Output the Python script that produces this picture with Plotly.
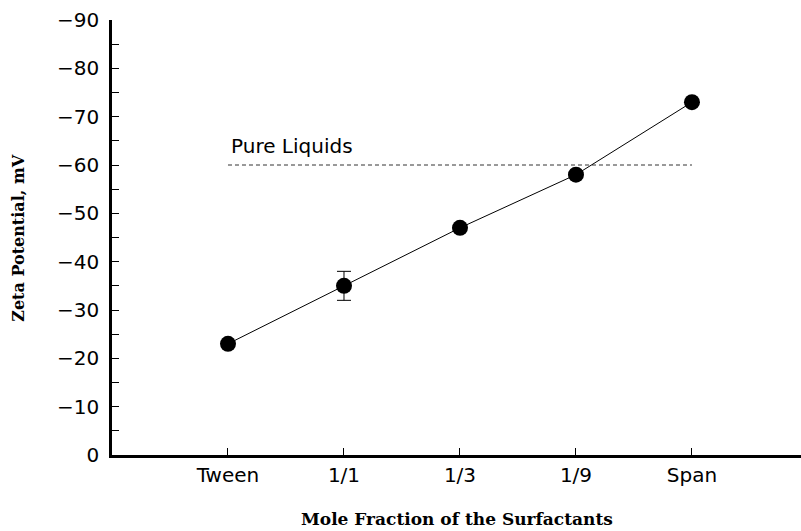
import plotly.graph_objects as go

categories = ["Tween", "1/1", "1/3", "1/9", "Span"]
zeta = [-23, -35, -47, -58, -73]
zeta_err = [0, 3, 0, 0, 0]
pure_liquids = -60
y_ticks = [0, -10, -20, -30, -40, -50, -60, -70, -80, -90]

xpos = list(range(1, len(categories) + 1))

fig = go.Figure()
fig.add_trace(go.Scatter(
    x=[xpos[0], xpos[-1]], y=[pure_liquids, pure_liquids], mode="lines",
    line=dict(color="#333", width=1, dash="4px,3px"), hoverinfo="skip"))
fig.add_trace(go.Scatter(
    x=xpos, y=zeta, mode="lines+markers",
    line=dict(color="black", width=1),
    marker=dict(color="black", size=16),
    error_y=dict(type="data", array=zeta_err, color="black", thickness=1, width=7)))

fig.add_annotation(x=xpos[0], y=pure_liquids, xref="x", yref="y", text="Pure Liquids",
                   showarrow=False, xanchor="left", yanchor="bottom", xshift=1, yshift=5,
                   font=dict(family="DejaVu Sans", size=20, color="black"))
fig.add_annotation(x=0.5, y=-0.147, xref="paper", yref="paper", xanchor="center", yanchor="middle",
                   text="<b>Mole Fraction of the Surfactants</b>", showarrow=False,
                   font=dict(family="DejaVu Serif", size=17, color="black"))
fig.add_annotation(x=-0.136, y=0.5, xref="paper", yref="paper", xanchor="center", yanchor="middle",
                   textangle=-90, text="<b>Zeta Potential, mV</b>", showarrow=False,
                   font=dict(family="DejaVu Serif", size=16, color="black"))

fig.update_layout(
    width=801, height=531, showlegend=False,
    plot_bgcolor="white", paper_bgcolor="white",
    margin=dict(l=112, r=0, t=20, b=76),
    font=dict(family="DejaVu Sans", size=19, color="black"),
    xaxis=dict(range=[0, 5.94], tickvals=xpos, ticktext=categories, showgrid=False,
               zeroline=False, showline=True, linecolor="black", linewidth=2.5,
               ticks="inside", ticklen=7, tickcolor="black", tickwidth=1,
               tickfont=dict(size=20)),
    yaxis=dict(range=[0, -90], tickvals=y_ticks, showgrid=False, zeroline=False,
               showline=True, linecolor="black", linewidth=2.5,
               ticks="inside", ticklen=7, tickcolor="black", tickwidth=1,
               ticklabelstandoff=6,
               minor=dict(dtick=5, tick0=0, ticks="inside", ticklen=7, tickcolor="black", tickwidth=1),
               tickfont=dict(size=20)),
)
fig.write_html("out.html")
